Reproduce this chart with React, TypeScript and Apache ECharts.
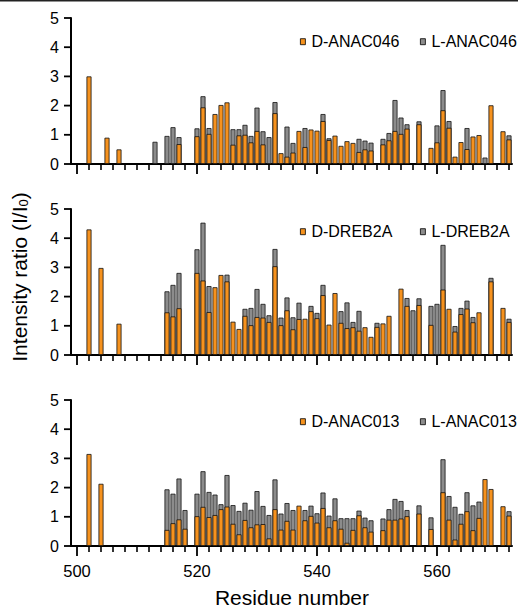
import React, { useEffect, useRef } from "react";
import * as echarts from "echarts";

const FONT = '"Liberation Sans", Arial, Helvetica, sans-serif';
const ORANGE = "#F6921E";
const GRAY = "#8C8C8C";

// Panel 1: ANAC046
const residues046 = [502, 505, 507, 513, 515, 516, 517, 520, 521, 522, 523, 524, 525, 526, 527, 528, 529, 530, 531, 532, 533, 534, 535, 536, 537, 538, 539, 540, 541, 542, 543, 544, 545, 546, 547, 548, 549, 551, 552, 553, 554, 555, 557, 559, 560, 561, 562, 563, 564, 565, 566, 567, 568, 569, 571, 572];
const dANAC046 = [3.0, 0.9, 0.5, null, null, null, 0.68, 0.95, 1.94, 1.03, 1.71, 2.02, 2.11, 0.66, 0.98, 1.0, 0.74, 1.13, 0.67, null, 1.74, 0.37, 0.25, 0.39, 1.13, 0.58, 1.18, 1.14, 1.47, 0.82, 0.97, 0.62, 0.78, 0.72, 0.41, 0.5, 0.46, 0.67, 0.81, 1.13, 1.03, 1.21, 1.36, 0.55, 0.74, 1.84, 1.24, 0.25, 0.75, 0.51, 0.94, 0.99, null, 2.01, 1.12, 0.84];
const lANAC046 = [null, null, null, 0.76, 0.96, 1.26, 0.92, 1.22, 2.32, 1.23, null, null, null, 1.19, 1.19, 1.34, 0.96, 1.93, 1.12, 0.92, 2.12, null, 1.28, 0.72, null, 1.23, null, null, 1.71, 0.88, null, null, null, null, 0.86, 0.8, 0.73, 0.86, 1.06, 2.19, 1.59, 1.36, 1.46, null, 1.32, 2.53, 1.47, null, null, 1.23, null, null, 0.22, null, null, 0.98];

// Panel 2: DREB2A
const residuesDREB2A = [502, 504, 507, 515, 516, 517, 520, 521, 522, 523, 524, 525, 526, 527, 528, 529, 530, 531, 532, 533, 534, 535, 536, 537, 538, 539, 540, 541, 542, 543, 544, 545, 546, 547, 548, 549, 550, 551, 552, 554, 555, 556, 557, 559, 560, 561, 562, 563, 564, 565, 566, 567, 569, 571, 572];
const dDREB2A = [4.3, 2.98, 1.07, 1.46, 1.32, 1.6, 2.81, 2.55, 1.47, 2.32, 2.74, 2.52, 1.14, 0.89, 1.34, 1.02, 1.3, 1.28, 1.13, 3.04, 1.02, 1.53, 0.88, 1.23, 1.24, 1.5, 1.26, 2.05, 1.04, 2.12, 1.1, 0.92, 0.95, 0.83, 0.95, 0.62, 0.96, 1.08, 1.34, 2.27, 1.68, null, 1.71, 1.03, null, 2.24, 1.58, 0.8, 1.4, 1.59, 1.12, 1.46, 2.52, 1.61, 1.13];
const lDREB2A = [null, null, null, 2.18, 2.4, 2.81, 3.62, 4.53, 2.36, null, null, 2.75, null, null, 1.58, 1.61, 2.26, 1.75, 1.36, 3.63, 1.28, 1.97, 1.29, 1.79, null, 1.68, 1.44, 2.4, null, null, 1.5, 1.8, 1.13, 1.51, null, null, 1.1, null, null, null, 1.95, 1.53, 1.94, 1.68, 1.75, 3.77, null, 0.99, 1.61, 1.86, 1.3, null, 2.64, null, 1.24];

// Panel 3: ANAC013
const residues013 = [502, 504, 515, 516, 517, 518, 520, 521, 522, 523, 524, 525, 526, 527, 528, 529, 530, 531, 532, 533, 534, 535, 536, 537, 538, 539, 540, 541, 542, 543, 544, 545, 546, 547, 548, 549, 551, 552, 553, 554, 555, 557, 559, 561, 562, 563, 564, 565, 566, 567, 568, 569, 571, 572];
const dANAC013 = [3.15, 2.13, 0.55, 0.78, 0.91, 0.59, 1.02, 1.34, 0.99, 1.06, 1.26, 1.35, 0.76, 0.4, 0.89, 0.64, 0.74, 0.75, 0.26, 1.26, 0.56, 0.86, 0.56, 1.38, 0.88, 1.03, 0.8, 1.3, 0.64, 0.88, 0.59, 0.11, 0.55, 1.05, 0.64, 0.49, 0.54, 0.9, 0.9, 0.94, 1.02, 1.11, 0.58, 1.84, 0.9, 0.22, 0.76, 1.19, 0.54, 0.96, 2.29, 1.95, 1.36, 1.04];
const lANAC013 = [null, null, 1.94, 1.79, 2.31, 1.23, 1.79, 2.56, 1.85, 1.76, 1.43, 2.43, 1.4, 1.2, 1.48, 1.24, 1.88, 1.37, 1.06, 2.28, 1.11, 1.47, 1.23, null, 1.23, 1.38, 1.12, 1.83, 1.04, 1.63, 0.95, 0.95, 0.95, 1.21, 0.97, 0.88, 0.94, 1.26, 1.61, 1.54, 1.23, 1.39, 0.98, 2.97, 1.71, 1.34, 1.1, 1.84, 1.39, 1.52, null, null, null, 1.19];

const yTicks = [0, 1, 2, 3, 4, 5];
const xMajorTicks = [500, 520, 540, 560];
const xMinorTicks = [502, 504, 506, 508, 510, 512, 514, 516, 518, 522, 524, 526, 528, 530, 532, 534, 536, 538, 542, 544, 546, 548, 550, 552, 554, 556, 558, 562, 564, 566, 568, 570, 572];
const X_MIN = 499;
const X_MAX = 572.5;

const panels = [
  { residues: residues046, d: dANAC046, l: lANAC046, dName: "D-ANAC046", lName: "L-ANAC046" },
  { residues: residuesDREB2A, d: dDREB2A, l: lDREB2A, dName: "D-DREB2A", lName: "L-DREB2A" },
  { residues: residues013, d: dANAC013, l: lANAC013, dName: "D-ANAC013", lName: "L-ANAC013" },
];

const GRID_TOPS = [18, 209, 400];
const GRID_H = 146;
const LEGEND_CENTERS = [41.7, 231.7, 421.7];

function pairs(res: number[], vals: (number | null)[]) {
  const out: [number, number][] = [];
  res.forEach((r, i) => {
    const v = vals[i];
    if (v != null) out.push([r, v]);
  });
  return out;
}

export default function App() {
  const ref = useRef<HTMLDivElement>(null);
  useEffect(() => {
    if (!ref.current) return;
    const chart = echarts.init(ref.current, undefined, { renderer: "svg" });
    const grid: any[] = [];
    const xAxis: any[] = [];
    const yAxis: any[] = [];
    const series: any[] = [];
    const legend: any[] = [];

    panels.forEach((p, i) => {
      grid.push({ left: 71, right: 6, top: GRID_TOPS[i], height: GRID_H });
      xAxis.push({
        type: "value",
        gridIndex: i,
        min: X_MIN,
        max: X_MAX,
        position: "bottom",
        axisLine: { show: true, lineStyle: { color: "#000", width: 2 } },
        splitLine: { show: false },
        axisTick: { show: false },
        axisLabel: {
          show: i === 2,
          customValues: xMajorTicks,
          fontSize: 16.5,
          fontFamily: FONT,
          color: "#000",
          margin: 16,
        },
      });
      yAxis.push({
        type: "value",
        gridIndex: i,
        min: 0,
        max: 5,
        interval: 1,
        axisLine: { show: true, lineStyle: { color: "#000", width: 2 } },
        splitLine: { show: false },
        axisTick: { show: false },
        axisLabel: { fontSize: 16, fontFamily: FONT, color: "#000", margin: 12 },
      });
      series.push({
        type: "bar",
        name: p.lName,
        xAxisIndex: i,
        yAxisIndex: i,
        data: pairs(p.residues, p.l),
        barWidth: 5,
        barGap: "-100%",
        itemStyle: { color: GRAY, borderColor: "#111", borderWidth: 0.8 },
      });
      series.push({
        type: "bar",
        name: p.dName,
        xAxisIndex: i,
        yAxisIndex: i,
        data: pairs(p.residues, p.d),
        barWidth: 5,
        barGap: "-100%",
        itemStyle: { color: ORANGE, borderColor: "#111", borderWidth: 0.8 },
      });
      const legendBase = {
        top: LEGEND_CENTERS[i] - 8,
        padding: 0,
        icon: "rect",
        itemWidth: 5,
        itemHeight: 6,
        selectedMode: false,
        textStyle: { fontSize: 16, fontFamily: FONT, color: "#000", padding: [0, 0, 0, 1] },
        itemStyle: { borderColor: "#000", borderWidth: 0.8 },
      };
      legend.push({ ...legendBase, left: 300, data: [p.dName] });
      legend.push({ ...legendBase, left: 420, data: [p.lName] });
    });

    chart.setOption({
      animation: false,
      backgroundColor: "#fff",
      grid,
      xAxis,
      yAxis,
      series,
      legend,
      graphic: [
        { id: "topline", type: "rect", left: 0, top: 0, shape: { width: 518, height: 1.5 }, style: { fill: "#222" } },
        {
          id: "xtitle",
          type: "text",
          x: 292,
          y: 597,
          style: {
            text: "Residue number",
            fontSize: 21,
            fontFamily: FONT,
            fill: "#000",
            align: "center",
            verticalAlign: "middle",
          },
        },
        {
          id: "ytitle",
          type: "text",
          x: 19,
          y: 277,
          rotation: Math.PI / 2,
          style: {
            text: "{a|Intensity ratio (I/I}{b|0}{a|)}",
            align: "center",
            verticalAlign: "middle",
            rich: {
              a: { fontSize: 21, fontFamily: FONT, fill: "#000" },
              b: { fontSize: 13, fontFamily: FONT, fill: "#000", verticalAlign: "bottom" },
            },
          },
        },
      ],
    });

    // Axis ticks placed through the library's own coordinate conversion
    const ticks: any[] = [];
    let n = 0;
    const tickLine = (x1: number, y1: number, x2: number, y2: number, w: number) => ({
      id: "tick" + n++,
      type: "line",
      shape: { x1, y1, x2, y2 },
      style: { stroke: "#000", lineWidth: w },
      silent: true,
      z: 10,
    });
    panels.forEach((_, i) => {
      const finder = { gridIndex: i };
      xMajorTicks.forEach((v) => {
        const pt = chart.convertToPixel(finder, [v, 0]) as number[];
        if (pt) ticks.push(tickLine(pt[0], pt[1], pt[0], pt[1] + 10, 1.8));
      });
      xMinorTicks.forEach((v) => {
        const pt = chart.convertToPixel(finder, [v, 0]) as number[];
        if (pt) ticks.push(tickLine(pt[0], pt[1], pt[0], pt[1] + 6, 1.6));
      });
      yTicks.forEach((v) => {
        const pt = chart.convertToPixel(finder, [X_MIN, v]) as number[];
        if (pt) ticks.push(tickLine(pt[0] - 7, pt[1], pt[0], pt[1], 1.8));
      });
    });
    chart.setOption({ graphic: ticks });

    return () => chart.dispose();
  }, []);
  return (
    <div
      ref={ref}
      style={{ position: "fixed", left: 0, top: 0, width: 518, height: 611, background: "#fff" }}
    />
  );
}
